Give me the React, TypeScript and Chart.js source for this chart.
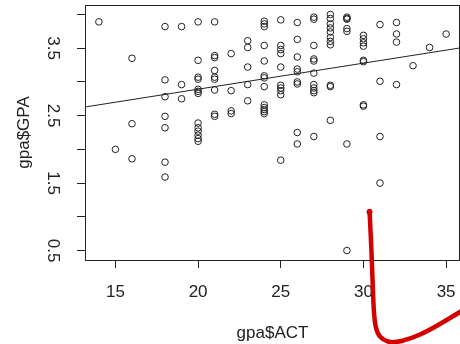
import React, { useEffect, useRef } from "react";
import { Chart, registerables } from "chart.js";

Chart.register(...registerables);

// ACT score of each student (x) and the matching GPA (y)
const ACT = [
  14,
  15,
  16, 16, 16,
  18, 18, 18, 18, 18, 18, 18,
  19, 19, 19,
  20, 20, 20, 20, 20, 20, 20, 20, 20, 20, 20, 20, 20,
  21, 21, 21, 21, 21, 21, 21, 21, 21,
  22, 22, 22, 22,
  23, 23, 23, 23, 23,
  24, 24, 24, 24, 24, 24, 24, 24, 24, 24, 24, 24, 24,
  25, 25, 25, 25, 25, 25, 25, 25, 25, 25,
  26, 26, 26, 26, 26, 26, 26, 26, 26,
  27, 27, 27, 27, 27, 27, 27, 27, 27, 27, 27,
  28, 28, 28, 28, 28, 28, 28, 28, 28, 28, 28,
  29, 29, 29, 29, 29, 29, 29,
  30, 30, 30, 30, 30, 30, 30, 30,
  31, 31, 31, 31,
  32, 32, 32, 32,
  33,
  34,
  35,
];
const GPA = [
  3.89,
  2.0,
  3.35, 2.38, 1.86,
  3.82, 3.03, 2.78, 2.49, 2.32, 1.81, 1.59,
  3.82, 2.96, 2.75,
  3.89, 3.32, 3.07, 3.04, 2.89, 2.86, 2.83, 2.39, 2.32, 2.27, 2.21, 2.16, 2.12,
  3.89, 3.39, 3.36, 3.17, 3.07, 3.04, 2.88, 2.52, 2.49,
  3.42, 2.87, 2.57, 2.53,
  3.61, 3.51, 3.22, 2.96, 2.72,
  3.9, 3.86, 3.82, 3.54, 3.31, 3.09, 3.06, 2.93, 2.66, 2.62, 2.59, 2.56, 2.53,
  3.92, 3.54, 3.48, 3.42, 3.22, 2.95, 2.91, 2.87, 2.81, 1.84,
  3.88, 3.63, 3.37, 3.19, 3.15, 3.0, 2.97, 2.25, 2.08,
  3.96, 3.93, 3.54, 3.34, 3.31, 3.13, 2.96, 2.91, 2.87, 2.84, 2.19,
  4.0, 3.94, 3.86, 3.8, 3.74, 3.66, 3.6, 3.55, 2.95, 2.93, 2.43,
  3.96, 3.94, 3.93, 3.79, 3.75, 2.08, 0.5,
  3.69, 3.64, 3.58, 3.53, 3.32, 3.3, 2.66, 2.64,
  3.85, 3.01, 2.19, 1.5,
  3.88, 3.71, 3.59, 2.96,
  3.24,
  3.51,
  3.71,
];

const X_TICKS = [15, 20, 25, 30, 35];
const Y_TICKS = [0.5, 1, 1.5, 2, 2.5, 3, 3.5, 4];
const Y_TICK_LABELS = ["0.5", "", "1.5", "", "2.5", "", "3.5", ""];
const X_RANGE = [13.16, 35.84];
const Y_RANGE = [0.36, 4.14];

// fitted regression line  GPA = a + b * ACT
const FIT_INTERCEPT = 2.12;
const FIT_SLOPE = 0.0386;

// hand-drawn red pen stroke (in data units)
const PEN_ACT = [30.37, 30.46, 30.55, 30.64, 30.82, 31.18, 31.79, 32.82, 34.03, 35.84, 36.44];
const PEN_GPA = [1.086, 0.657, 0.063, -0.5, -0.722, -0.826, -0.87, -0.811, -0.678, -0.411, -0.322];

const INK = "#222222";
const FONT_FAMILY = "'Liberation Sans', Arial, sans-serif";

const overlayPlugin = {
  id: "rOverlay",
  afterDraw(chart: any) {
    const { ctx, chartArea } = chart;
    const { left, top, right, bottom } = chartArea;
    ctx.save();
    ctx.strokeStyle = INK;
    ctx.lineWidth = 1;
    const l = Math.round(left) + 0.5;
    const t = Math.round(top) + 0.5;
    const r = Math.round(right) - 0.5;
    const b = Math.round(bottom) + 0.5;
    ctx.strokeRect(l, t, r - l, b - t);
    ctx.restore();

    // red pen annotation
    const xs = chart.scales.x;
    const ys = chart.scales.y;
    const pts = PEN_ACT.map((a, i) => [xs.getPixelForValue(a), ys.getPixelForValue(PEN_GPA[i])]);
    ctx.save();
    ctx.strokeStyle = "#d40000";
    ctx.lineWidth = 4.5;
    ctx.lineCap = "round";
    ctx.lineJoin = "round";
    ctx.beginPath();
    ctx.moveTo(pts[0][0], pts[0][1]);
    for (let i = 1; i < pts.length - 1; i++) {
      const mx = (pts[i][0] + pts[i + 1][0]) / 2;
      const my = (pts[i][1] + pts[i + 1][1]) / 2;
      ctx.quadraticCurveTo(pts[i][0], pts[i][1], mx, my);
    }
    const last = pts[pts.length - 1];
    ctx.lineTo(last[0], last[1]);
    ctx.stroke();
    ctx.fillStyle = "#d40000";
    ctx.beginPath();
    ctx.arc(pts[0][0], pts[0][1] + 1, 3, 0, Math.PI * 2);
    ctx.fill();
    ctx.restore();
  },
};

export default function App() {
  const canvasRef = useRef<HTMLCanvasElement | null>(null);

  useEffect(() => {
    const canvas = canvasRef.current;
    if (!canvas) return;
    const points = ACT.map((a, i) => ({ x: a, y: GPA[i] }));
    const fit = X_RANGE.map((a) => ({ x: a, y: FIT_INTERCEPT + FIT_SLOPE * a }));
    const tickFont = { family: FONT_FAMILY, size: 17 };

    const chart = new Chart(canvas, {
      type: "scatter",
      data: {
        datasets: [
          {
            type: "line",
            data: fit,
            borderColor: INK,
            borderWidth: 1,
            pointRadius: 0,
            fill: false,
            showLine: true,
          } as any,
          {
            data: points,
            pointRadius: 3.3,
            pointBorderWidth: 1,
            borderColor: INK,
            backgroundColor: "rgba(0,0,0,0)",
            pointHoverRadius: 3.3,
          },
        ],
      },
      options: {
        animation: false,
        responsive: false,
        devicePixelRatio: 1,
        events: [],
        layout: { autoPadding: false, padding: { top: 5, right: 0, bottom: 0, left: 0 } },
        plugins: {
          legend: { display: false },
          tooltip: { enabled: false },
        },
        scales: {
          x: {
            type: "linear",
            min: X_RANGE[0],
            max: X_RANGE[1],
            afterBuildTicks: (s: any) => {
              s.ticks = X_TICKS.map((v) => ({ value: v }));
            },
            afterFit: (s: any) => {
              s.height = 84;
              s.paddingLeft = 0;
              s.paddingRight = 0;
            },
            border: { display: false },
            grid: {
              display: true,
              drawOnChartArea: false,
              drawTicks: true,
              tickLength: 8,
              color: INK,
              lineWidth: 1,
            },
            ticks: {
              color: INK,
              font: tickFont,
              padding: 14,
              autoSkip: false,
              minRotation: 0,
              maxRotation: 0,
              callback: (v: any) => String(v),
            },
            title: {
              display: true,
              text: "gpa$ACT",
              color: INK,
              font: tickFont,
              padding: { top: 0, bottom: 0 },
            },
          },
          y: {
            type: "linear",
            min: Y_RANGE[0],
            max: Y_RANGE[1],
            afterBuildTicks: (s: any) => {
              s.ticks = Y_TICKS.map((v) => ({ value: v }));
            },
            afterFit: (s: any) => {
              s.width = 85;
              s.paddingTop = 0;
              s.paddingBottom = 0;
            },
            border: { display: false },
            grid: {
              display: true,
              drawOnChartArea: false,
              drawTicks: true,
              tickLength: 8,
              color: INK,
              lineWidth: 1,
            },
            ticks: {
              color: INK,
              font: tickFont,
              padding: 12,
              autoSkip: false,
              minRotation: -90,
              maxRotation: -90,
              crossAlign: "center",
              callback: (_v: any, i: number) => Y_TICK_LABELS[i],
            },
            title: {
              display: true,
              text: "gpa$GPA",
              color: INK,
              font: tickFont,
              padding: { top: 14, bottom: 0 },
            },
          },
        },
      },
      plugins: [overlayPlugin],
    } as any);

    return () => chart.destroy();
  }, []);

  return (
    <div
      style={{
        position: "fixed",
        left: 0,
        top: 0,
        width: 460,
        height: 344,
        overflow: "hidden",
        background: "#ffffff",
      }}
    >
      <canvas ref={canvasRef} width={460} height={344} style={{ display: "block", width: 460, height: 344 }} />
    </div>
  );
}
